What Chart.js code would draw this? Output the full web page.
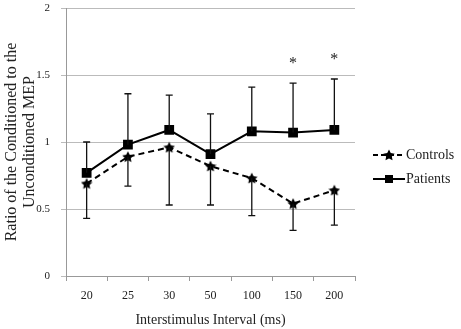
<!DOCTYPE html>
<html><head><meta charset="utf-8">
<script src="https://cdn.jsdelivr.net/npm/chart.js@4/dist/chart.umd.min.js"></script>
<style>html,body{margin:0;padding:0;background:#fff}#w{width:461px;height:329px}</style>
</head><body><div id="w"><canvas id="c"></canvas></div>
<script>
const categories = ["20","25","30","50","100","150","200"];
const controls = [0.69,0.89,0.96,0.82,0.73,0.54,0.64];
const controlsLower = [0.43,0.67,0.53,0.53,0.45,0.34,0.38];
const patients = [0.77,0.98,1.09,0.91,1.08,1.07,1.09];
const patientsUpper = [1.00,1.36,1.35,1.21,1.41,1.44,1.47];
const significant = ["150","200"];
const yTicks = [0,0.5,1,1.5,2];

const FONT = "'Liberation Serif','Times New Roman',serif";
const TXT = '#222';

function starCanvas(size){
  const c=document.createElement('canvas');c.width=size;c.height=size;
  const g=c.getContext('2d');g.fillStyle='#000';g.beginPath();
  const cx=size/2,cy=size/2+0.5,R=size/2,r=R*0.5;
  for(let i=0;i<10;i++){const a=-Math.PI/2+i*Math.PI/5;const rad=i%2?r:R;
    g.lineTo(cx+rad*Math.cos(a),cy+rad*Math.sin(a));}
  g.closePath();g.fill();return c;
}
const starImg=starCanvas(12);

const errorBars={id:'errorBars',afterDatasetsDraw(chart){
  const ctx=chart.ctx,x=chart.scales.x,y=chart.scales.y;
  ctx.save();ctx.strokeStyle='#111';ctx.lineWidth=1.3;
  const draw=(vals,ends)=>{vals.forEach((v,i)=>{const px=x.getPixelForValue(i);
    const y0=y.getPixelForValue(v),y1=y.getPixelForValue(ends[i]);
    ctx.beginPath();ctx.moveTo(px,y0);ctx.lineTo(px,y1);
    ctx.moveTo(px-3.5,y1);ctx.lineTo(px+3.5,y1);ctx.stroke();});};
  draw(patients,patientsUpper);draw(controls,controlsLower);
  ctx.fillStyle=TXT;ctx.font='16px '+FONT;ctx.textAlign='center';ctx.textBaseline='alphabetic';
  significant.forEach(s=>{const i=categories.indexOf(s);const px=x.getPixelForValue(i);
    const py=y.getPixelForValue(patientsUpper[i])-24;ctx.fillText('*',px,py+9);});
  // legend
  const lx=373,ly1=155,ly2=179;
  ctx.textBaseline='middle';
  ctx.lineWidth=2;ctx.strokeStyle='#000';
  ctx.setLineDash([5,3]);ctx.beginPath();ctx.moveTo(lx,ly1);ctx.lineTo(lx+32,ly1);ctx.stroke();
  ctx.setLineDash([]);ctx.drawImage(starImg,lx+16-6,ly1-6);
  ctx.beginPath();ctx.moveTo(lx,ly2);ctx.lineTo(lx+32,ly2);ctx.stroke();
  ctx.fillStyle='#000';ctx.fillRect(lx+16-4,ly2-4,8,8);
  ctx.fillStyle=TXT;ctx.font='14px '+FONT;ctx.textAlign='left';
  ctx.fillText('Controls',lx+33,ly1);ctx.fillText('Patients',lx+33,ly2);
  ctx.restore();
}};

new Chart(document.getElementById('c'),{
  type:'line',
  data:{labels:categories,datasets:[
    {label:'Controls',data:controls,borderColor:'#000',borderWidth:2,borderDash:[6,4],
     pointStyle:starImg,pointRadius:6,backgroundColor:'#000'},
    {label:'Patients',data:patients,borderColor:'#000',borderWidth:2,
     pointStyle:'rect',pointRadius:5.5,pointBackgroundColor:'#000',pointBorderColor:'#000',backgroundColor:'#000'}
  ]},
  options:{responsive:true,maintainAspectRatio:false,animation:false,
    layout:{padding:{top:2,right:106,left:3,bottom:0}},
    plugins:{legend:{display:false},tooltip:{enabled:false}},
    scales:{
      x:{offset:true,
        grid:{offset:true,drawOnChartArea:false,drawTicks:true,tickLength:5,color:'#999'},
        border:{color:'#999'},
        ticks:{color:TXT,font:{family:FONT,size:12},padding:8,maxRotation:0},
        title:{display:true,text:'Interstimulus Interval (ms)',color:TXT,font:{family:FONT,size:14},padding:{top:6,bottom:0}},
        afterFit(s){s.height=53;s.paddingLeft=0;s.paddingRight=0;}
      },
      y:{min:0,max:2,
        afterBuildTicks(s){s.ticks=yTicks.map(v=>({value:v}));},
        grid:{color:'#bbb',tickLength:5,drawTicks:true},
        border:{color:'#999'},
        ticks:{color:TXT,font:{family:FONT,size:11},padding:11,callback:v=>String(v)},
        title:{display:true,text:['Ratio of the Conditioned to the','Unconditioned MEP'],color:TXT,font:{family:FONT,size:16,lineHeight:1.1},padding:{top:0,bottom:4}},
        afterFit(s){s.width=63;s.paddingTop=0;s.paddingBottom=0;}
      }
    }
  },
  plugins:[errorBars]
});
</script></body></html>
